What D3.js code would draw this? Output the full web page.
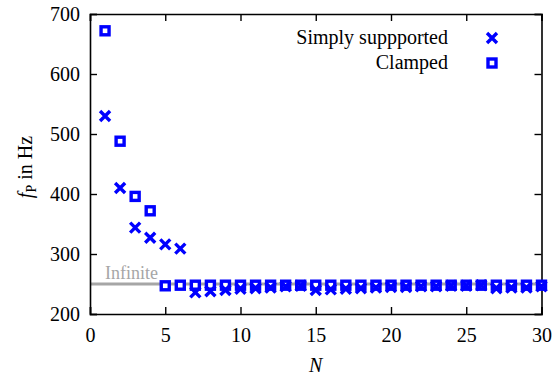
<!DOCTYPE html>
<html>
<head>
<meta charset="utf-8">
<script src="https://cdn.jsdelivr.net/npm/d3@7"></script>
<style>
  body { margin: 0; background: #fff; }
  svg text { font-family: "Liberation Serif", "Times New Roman", serif !important; }
</style>
</head>
<body>
<div id="chart"></div>
<script>
// mode numbers
const modes = d3.range(1, 31);

// fundamental frequency per number of elements (Hz)
const simplySupported = [530, 410, 344, 327, 316, 309, 236, 238, 240, 242,
  243, 244, 246, 247, 240, 241, 242, 243, 244, 245,
  245, 246, 246, 247, 247, 248, 243, 244, 244, 246];
const clamped = [672, 488, 396, 372, 247, 248, 248, 248, 248, 248,
  248, 248, 248, 248, 248, 248, 248, 248, 248, 248,
  248, 248, 248, 248, 248, 248, 248, 248, 248, 248];

const infiniteValue = 250;

const xTicks = [0, 5, 10, 15, 20, 25, 30];
const yTicks = [200, 300, 400, 500, 600, 700];

const width = 553, height = 381;
const margin = {left: 90, right: 11.5, top: 14, bottom: 67};

const svg = d3.select("#chart").append("svg")
  .attr("width", width)
  .attr("height", height);

const x = d3.scaleLinear().domain([0, 30]).range([margin.left, width - margin.right]);
const y = d3.scaleLinear().domain([200, 700]).range([height - margin.bottom, margin.top]);

const blue = "#0000ff";

// infinite plate reference line
svg.append("line")
  .attr("x1", x(0)).attr("x2", x(30))
  .attr("y1", y(infiniteValue)).attr("y2", y(infiniteValue))
  .attr("stroke", "#a6a6a6")
  .attr("stroke-width", 3);

svg.append("text")
  .attr("x", x(1)).attr("y", y(infiniteValue) - 5)
  .attr("font-size", 18)
  .attr("fill", "#a6a6a6")
  .text("Infinite");

// axes with inward ticks, mirrored on top and right
const tickLen = 7;
svg.append("g")
  .attr("transform", `translate(0,${y(200)})`)
  .call(d3.axisBottom(x).tickValues(xTicks).tickSize(-tickLen).tickPadding(14));
svg.append("g")
  .attr("transform", `translate(0,${y(700)})`)
  .call(d3.axisTop(x).tickValues(xTicks).tickSize(-tickLen).tickFormat(""));
svg.append("g")
  .attr("transform", `translate(${x(0)},0)`)
  .call(d3.axisLeft(y).tickValues(yTicks).tickSize(-tickLen).tickPadding(10));
svg.append("g")
  .attr("transform", `translate(${x(30)},0)`)
  .call(d3.axisRight(y).tickValues(yTicks).tickSize(-tickLen).tickFormat(""));

svg.selectAll(".domain").attr("stroke", "#000").attr("stroke-width", 1.6);
svg.selectAll(".tick line").attr("stroke", "#000").attr("stroke-width", 1.4);
svg.selectAll(".tick text")
  .attr("font-size", 20)
  .attr("fill", "#000");

// axis titles
svg.append("text")
  .attr("x", x(15)).attr("y", 372)
  .attr("text-anchor", "middle")
  .attr("font-size", 20)
  .attr("font-style", "italic")
  .text("N");

const yl = svg.append("text")
  .attr("transform", `translate(32,${y(445)}) rotate(-90)`)
  .attr("text-anchor", "middle")
  .attr("font-size", 20);
yl.append("tspan").attr("font-style", "italic").text("f");
yl.append("tspan").attr("font-size", 14).attr("dy", 4).text("P");
yl.append("tspan").attr("dy", -4).text(" in Hz");

// markers
const cross = (g, s) => {
  g.append("path")
    .attr("d", `M${-s},${-s}L${s},${s}M${-s},${s}L${s},${-s}`)
    .attr("stroke", blue)
    .attr("stroke-width", 3.4)
    .attr("fill", "none");
};
const square = (g, s) => {
  g.append("rect")
    .attr("x", -s).attr("y", -s)
    .attr("width", 2 * s).attr("height", 2 * s)
    .attr("stroke", blue)
    .attr("stroke-width", 3.4)
    .attr("fill", "#fff");
};

svg.append("g").selectAll("g")
  .data(clamped)
  .join("g")
  .attr("transform", (d, i) => `translate(${x(modes[i])},${y(d)})`)
  .each(function() { square(d3.select(this), 4); });

svg.append("g").selectAll("g")
  .data(simplySupported)
  .join("g")
  .attr("transform", (d, i) => `translate(${x(modes[i])},${y(d)})`)
  .each(function() { cross(d3.select(this), 5); });

// legend
const legend = [
  {label: "Simply suppported", draw: cross, size: 5, yPos: 38},
  {label: "Clamped", draw: square, size: 4, yPos: 63}
];
legend.forEach(l => {
  svg.append("text")
    .attr("x", 448).attr("y", l.yPos + 6)
    .attr("text-anchor", "end")
    .attr("font-size", 20)
    .text(l.label);
  const g = svg.append("g").attr("transform", `translate(492,${l.yPos})`);
  l.draw(g, l.size);
});
</script>
</body>
</html>
